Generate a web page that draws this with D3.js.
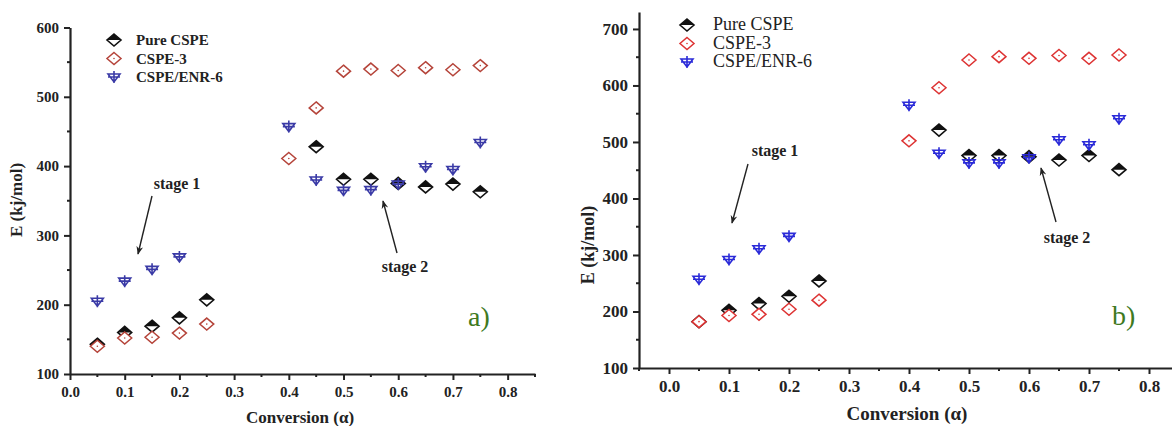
<!DOCTYPE html>
<html>
<head>
<meta charset="utf-8">
<script src="https://cdn.jsdelivr.net/npm/d3@7"></script>
<style>
  body { margin: 0; background: #fff; }
  svg { display: block; }
  text { font-family: "Liberation Serif", "DejaVu Serif", serif; }
</style>
</head>
<body>
<svg id="chart" width="1172" height="426"></svg>
<script>
// conversion values (alpha)
const conversion = [0.05, 0.1, 0.15, 0.2, 0.25, 0.4, 0.45, 0.5, 0.55, 0.6, 0.65, 0.7, 0.75]
const seriesNames = ["Pure CSPE", "CSPE-3", "CSPE/ENR-6"]

// panel a) activation energy, kJ/mol
const aPure  = [143, 160, 169, 181, 207, null, 428, 381, 381, 375, 370, 374, 363]
const aCspe3 = [140, 152, 153, 159, 172, 411, 484, 537, 540, 538, 542, 539, 545]
const aEnr6  = [205, 234, 251, 269, null, 457, 380, 365, 366, 374, 399, 395, 434]

// panel b)
const bPure  = [182, 202, 214, 227, 254, null, 521, 476, 476, 474, 468, 476, 451]
const bCspe3 = [182, 193, 195, 204, 220, 502, 596, 645, 651, 648, 653, 648, 654]
const bEnr6  = [257, 292, 311, 333, null, 565, 480, 463, 463, 472, 504, 495, 541]

const xTicks = [0, 0.1, 0.2, 0.3, 0.4, 0.5, 0.6, 0.7, 0.8]
const yTicksA = [100, 200, 300, 400, 500, 600]
const yTicksB = [100, 200, 300, 400, 500, 600, 700]

const svg = d3.select("#chart")

function drawMarker(sel, si, col) {
  if (si === 0) {
    // half filled diamond
    sel.append("path").attr("d", "M-7,0L0,-6L7,0Z").attr("fill", col)
    sel.append("path").attr("d", "M0,-6L7,0L0,6L-7,0Z").attr("fill", "none").attr("stroke", col).attr("stroke-width", 1.6)
  } else if (si === 1) {
    sel.append("path").attr("d", "M0,-6L7,0L0,6L-7,0Z").attr("fill", "#fff").attr("stroke", col).attr("stroke-width", 1.5)
    sel.append("circle").attr("r", 0.8).attr("fill", col)
  } else {
    // down triangle with a cross
    sel.append("path").attr("d", "M-6,-3L6,-3L0,5Z M0,-6L0,6 M-6,0L6,0")
      .attr("fill", "none").attr("stroke", col).attr("stroke-width", 1.6)
  }
}

function drawPanel(p) {
  const g = svg.append("g")
  const x = d3.scaleLinear().domain(p.xDomain).range(p.xRange)
  const y = d3.scaleLinear().domain(p.yDomain).range(p.yRange)

  const xMinor = d3.range(p.xDomain[0], p.xDomain[1] + 1e-9, 0.05)
    .filter(v => Math.abs(Math.round(v * 10) - v * 10) > 1e-6)
  const yMinor = d3.range(150, p.yDomain[1], 100)

  const xAxis = g.append("g")
    .attr("transform", `translate(0,${p.yRange[0]})`)
    .call(d3.axisBottom(x).tickValues(xTicks).tickFormat(d3.format(".1f")).tickSizeInner(6).tickSizeOuter(0).tickPadding(6))
  xAxis.selectAll(".minor").data(xMinor).enter().append("line")
    .attr("class", "minor").attr("x1", d => x(d)).attr("x2", d => x(d))
    .attr("y1", 0).attr("y2", 3).attr("stroke", "#222").attr("stroke-width", 2)

  const yAxis = g.append("g")
    .attr("transform", `translate(${p.xRange[0]},0)`)
    .call(d3.axisLeft(y).tickValues(p.yTicks).tickSizeInner(6).tickSizeOuter(0).tickPadding(5))
  yAxis.selectAll(".minor").data(yMinor).enter().append("line")
    .attr("class", "minor").attr("y1", d => y(d)).attr("y2", d => y(d))
    .attr("x1", 0).attr("x2", -3).attr("stroke", "#222").attr("stroke-width", 2)

  g.selectAll(".domain").attr("stroke", "#222").attr("stroke-width", 2.2)
  g.selectAll(".tick line").attr("stroke", "#222").attr("stroke-width", 2)
  g.selectAll(".tick text")
    .style("font-family", "'Liberation Serif', serif")
    .style("font-size", p.tickSize + "px")
    .style("font-weight", "bold")
    .attr("fill", "#222")

  g.append("text").attr("x", p.xTitle[0]).attr("y", p.xTitle[1])
    .attr("text-anchor", "middle").attr("font-size", p.titleSize).attr("font-weight", "bold").attr("fill", "#222")
    .text("Conversion (α)")
  g.append("text").attr("transform", `translate(${p.yTitle[0]},${p.yTitle[1]}) rotate(-90)`)
    .attr("text-anchor", "middle").attr("font-size", p.yTitleSize).attr("font-weight", "bold").attr("fill", "#222")
    .text("E (kj/mol)")

  p.series.forEach((vals, si) => {
    const pts = conversion.map((c, i) => ({ c, v: vals[i] })).filter(d => d.v != null)
    const m = g.append("g").selectAll("g").data(pts).enter().append("g")
      .attr("transform", d => `translate(${x(d.c)},${y(d.v)})`)
    drawMarker(m, si, p.colors[si])
  })

  // legend
  const lg = g.append("g").attr("transform", `translate(${p.legend[0]},${p.legend[1]})`)
  seriesNames.forEach((name, si) => {
    const row = lg.append("g").attr("transform", `translate(0,${si * p.legend[2]})`)
    drawMarker(row.append("g"), si, p.colors[si])
    row.append("text").attr("x", p.legend[3]).attr("y", 5)
      .attr("font-size", p.legendSize).attr("font-weight", p.legendWeight).attr("fill", "#222").text(name)
  })

  // stage annotations
  p.notes.forEach(n => {
    g.append("text").attr("x", n.tx).attr("y", n.ty).attr("text-anchor", "middle")
      .attr("font-size", 16).attr("font-weight", "bold").attr("fill", "#222").text(n.label)
    g.append("line").attr("x1", n.x1).attr("y1", n.y1).attr("x2", n.x2).attr("y2", n.y2)
      .attr("stroke", "#222").attr("stroke-width", 1.4).attr("marker-end", "url(#arr)")
  })

  g.append("text").attr("x", p.tag[0]).attr("y", p.tag[1]).attr("font-size", 28)
    .attr("fill", "#3f7a1f").text(p.tag[2])
}

svg.append("defs").append("marker").attr("id", "arr").attr("viewBox", "0 0 10 10")
  .attr("refX", 9).attr("refY", 5).attr("markerWidth", 6).attr("markerHeight", 6).attr("orient", "auto")
  .append("path").attr("d", "M0,1L10,5L0,9L3,5Z").attr("fill", "#222")

drawPanel({
  xDomain: [0, 0.85], xRange: [70, 535],
  yDomain: [100, 600], yRange: [374, 27.5], yTicks: yTicksA,
  series: [aPure, aCspe3, aEnr6],
  colors: ["#111", "#b5443a", "#3a3aa6"],
  tickSize: 15, legendSize: 15, legendWeight: "bold",
  titleSize: 17, yTitleSize: 17,
  legend: [114, 40, 18.5, 22],
  xTitle: [300, 423], yTitle: [22, 200],
  notes: [
    { label: "stage 1", tx: 177, ty: 189, x1: 152, y1: 196, x2: 138, y2: 254 },
    { label: "stage 2", tx: 405, ty: 272, x1: 397, y1: 253, x2: 383, y2: 201 }
  ],
  tag: [468, 326, "a)"]
})

drawPanel({
  xDomain: [-0.05, 0.85], xRange: [639, 1179],
  yDomain: [100, 730], yRange: [368, 12], yTicks: yTicksB,
  series: [bPure, bCspe3, bEnr6],
  colors: ["#111", "#dd3333", "#2a2ad8"],
  tickSize: 17, legendSize: 18, legendWeight: "normal",
  titleSize: 19, yTitleSize: 18,
  legend: [687, 25, 18.5, 26],
  xTitle: [907, 420], yTitle: [594, 245],
  notes: [
    { label: "stage 1", tx: 775, ty: 156, x1: 748, y1: 164, x2: 732, y2: 223 },
    { label: "stage 2", tx: 1067, ty: 243, x1: 1056, y1: 222, x2: 1041, y2: 168 }
  ],
  tag: [1112, 325, "b)"]
})
</script>
</body>
</html>
